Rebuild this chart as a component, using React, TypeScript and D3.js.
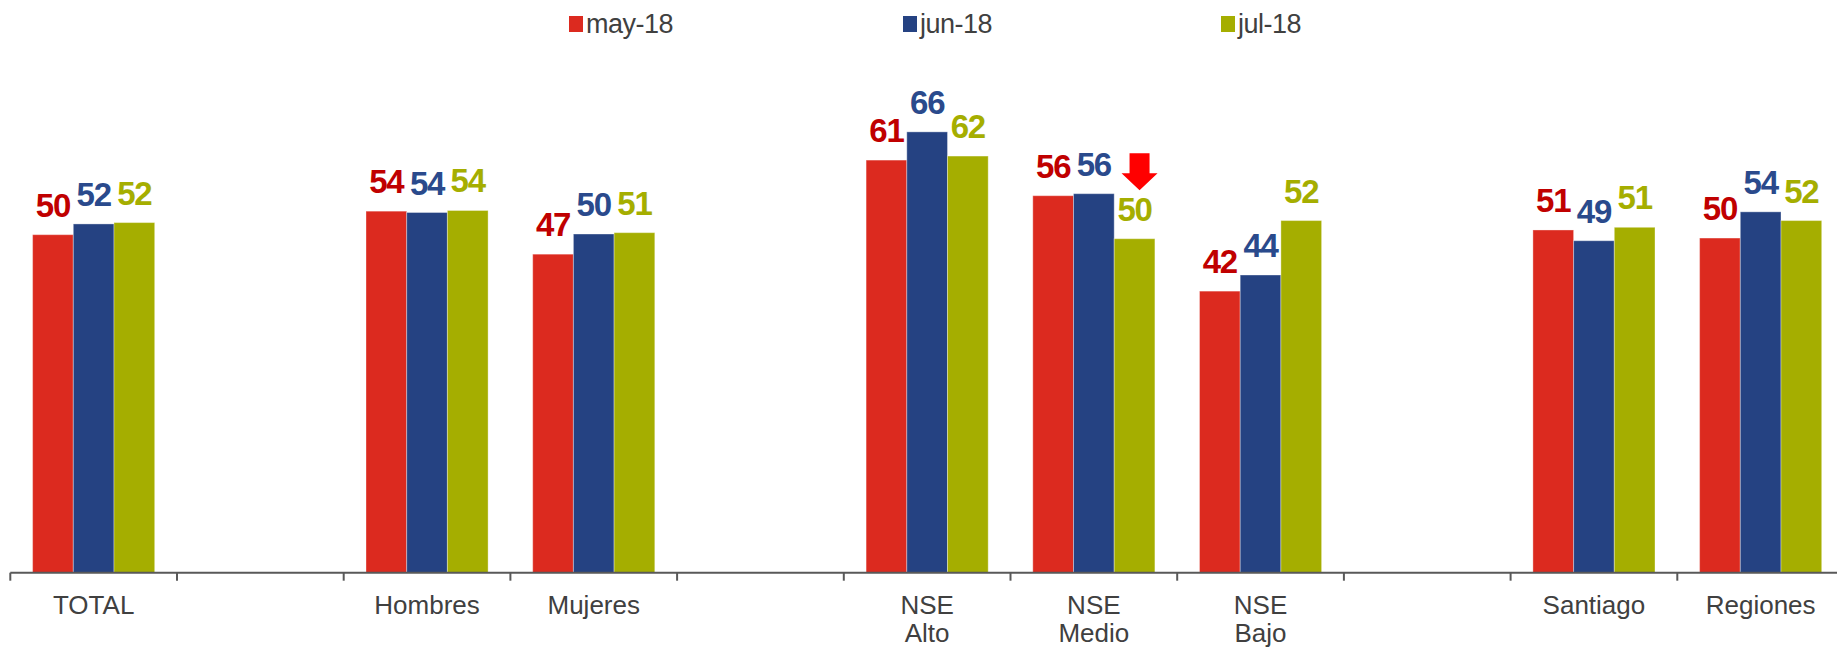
import * as d3 from 'd3';

const width = 1837;
const height = 648;

// categories (empty slots are the gaps between groups)
const categoryLines: string[][] = [
  ['TOTAL'],
  [],
  ['Hombres'],
  ['Mujeres'],
  [],
  ['NSE', 'Alto'],
  ['NSE', 'Medio'],
  ['NSE', 'Bajo'],
  [],
  ['Santiago'],
  ['Regiones'],
];

const seriesNames = ['may-18', 'jun-18', 'jul-18'];
const may18 = [50.3, null, 53.8, 47.4, null, 61.4, 56.1, 41.9, null, 51.0, 49.8];
const jun18 = [51.9, null, 53.6, 50.4, null, 65.6, 56.4, 44.3, null, 49.4, 53.7];
const jul18 = [52.1, null, 53.9, 50.6, null, 62.0, 49.7, 52.4, null, 51.4, 52.4];
const seriesValues = [may18, jun18, jul18];

const barColors = ['#DC2A1F', '#254282', '#A5AE00'];
const labelColors = ['#C00000', '#2A4A8C', '#A5AE00'];

// the red down arrow sits over NSE Medio / jul-18
const arrowSlot = 6;
const arrowSeries = 2;

const axisY = 572.7;
const left = 10.3;
const step = 166.7;

export default function App() {
  const slots = categoryLines.map((_, i) => String(i));
  const x = d3.scaleBand(slots, [left, left + step * slots.length]);
  const xs = d3
    .scaleBand(seriesNames, [0, x.bandwidth()])
    .paddingInner(0)
    .paddingOuter(0.548);
  const y = d3.scaleLinear([0, 85], [axisY, axisY - 85 * 6.72]);
  const bw = xs.bandwidth();

  const legendX = [569, 903, 1221];
  const font = '"Liberation Sans", Arial, sans-serif';

  return (
    <svg
      width={width}
      height={height}
      style={{ position: 'absolute', left: 0, top: 0, background: '#fff' }}
      fontFamily={font}
    >
      {/* legend */}
      {seriesNames.map((s, i) => (
        <g key={s}>
          <rect x={legendX[i]} y={16} width={14} height={16} fill={barColors[i]} />
          <text x={legendX[i] + 17} y={33} fontSize={27} fill="#404040" letterSpacing={-0.5}>
            {s}
          </text>
        </g>
      ))}

      {/* bars */}
      {seriesValues.map((vals, si) =>
        vals.map((v, ci) =>
          v == null ? null : (
            <rect
              key={`${si}-${ci}`}
              x={(x(String(ci)) ?? 0) + (xs(seriesNames[si]) ?? 0)}
              y={y(v)}
              width={bw}
              height={axisY - y(v)}
              fill={barColors[si]}
              stroke="#ffffff"
              strokeOpacity={0.35}
              strokeWidth={1}
            />
          )
        )
      )}

      {/* value labels */}
      {seriesValues.map((vals, si) =>
        vals.map((v, ci) =>
          v == null ? null : (
            <text
              key={`l${si}-${ci}`}
              x={(x(String(ci)) ?? 0) + (xs(seriesNames[si]) ?? 0) + bw / 2}
              y={y(v) - 18}
              fontSize={33}
              fontWeight={700}
              textAnchor="middle"
              fill={labelColors[si]}
              letterSpacing={-1.2}
            >
              {Math.round(v)}
            </text>
          )
        )
      )}

      {/* arrow */}
      {(() => {
        const v = seriesValues[arrowSeries][arrowSlot] as number;
        const cx =
          (x(String(arrowSlot)) ?? 0) + (xs(seriesNames[arrowSeries]) ?? 0) + bw / 2 + 5;
        const tip = y(v) - 18 - 24 - 6.5;
        const d = `M${cx - 10},${tip - 37} L${cx + 10},${tip - 37} L${cx + 10},${tip - 17} L${cx + 18},${tip - 17} L${cx},${tip} L${cx - 18},${tip - 17} L${cx - 10},${tip - 17} Z`;
        return <path d={d} fill="#FF0000" />;
      })()}

      {/* axis */}
      <line x1={left} x2={width} y1={axisY} y2={axisY} stroke="#595959" strokeWidth={2} />
      {d3.range(slots.length + 1).map((i) => (
        <line
          key={`t${i}`}
          x1={left + i * step}
          x2={left + i * step}
          y1={axisY}
          y2={axisY + 8}
          stroke="#595959"
          strokeWidth={2}
        />
      ))}

      {/* category labels */}
      {categoryLines.map((lines, ci) =>
        lines.map((line, li) => (
          <text
            key={`c${ci}-${li}`}
            x={(x(String(ci)) ?? 0) + x.bandwidth() / 2}
            y={614 + li * 28}
            fontSize={26}
            textAnchor="middle"
            fill="#404040"
          >
            {line}
          </text>
        ))
      )}
    </svg>
  );
}
